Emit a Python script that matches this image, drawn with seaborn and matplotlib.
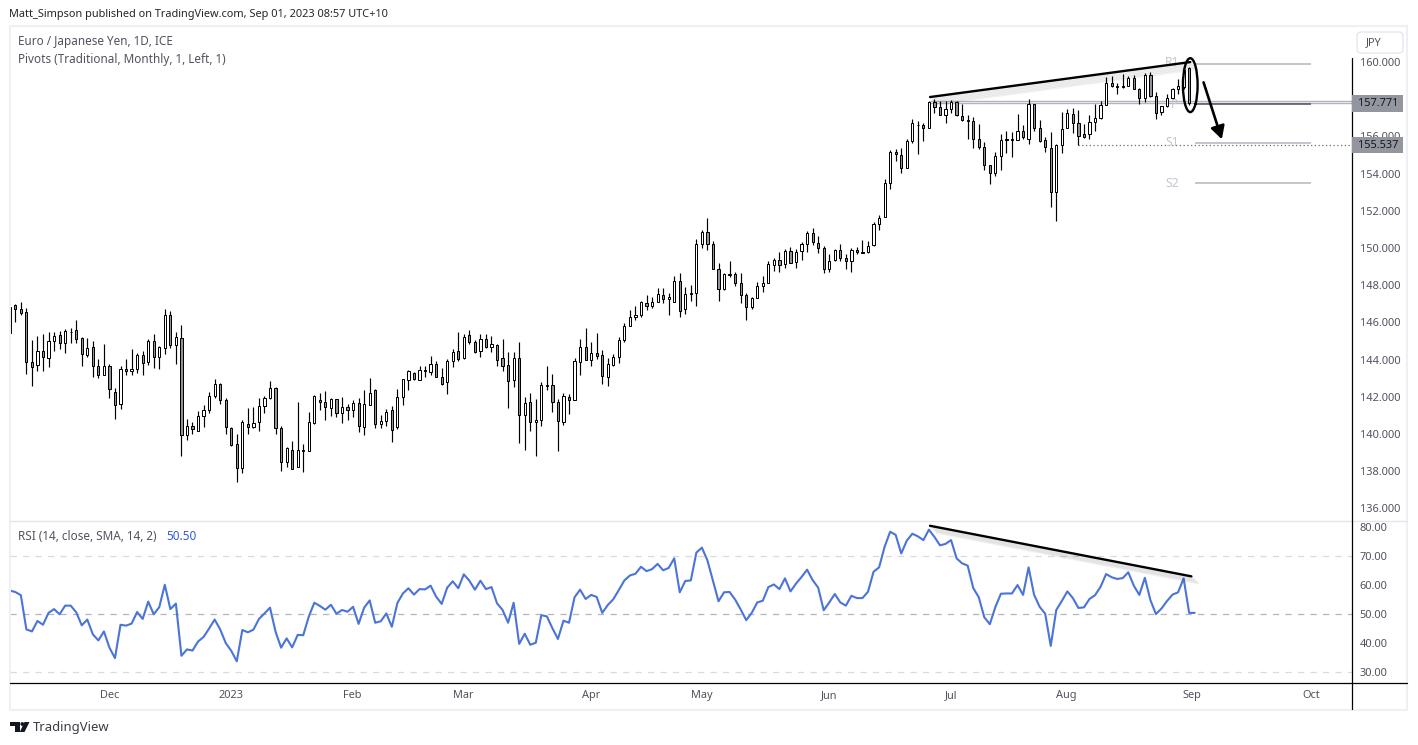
import numpy as np
import pandas as pd
import matplotlib
matplotlib.use('Agg')
import matplotlib.pyplot as plt
import matplotlib.patheffects as pe
from matplotlib.patches import Ellipse, Polygon, Rectangle, FancyBboxPatch
import seaborn as sns

# daily candles, first one sits half outside the left edge of the chart
opens = [146.85,
    146.92, 146.70, 146.54, 143.85, 143.69, 144.45, 144.07, 144.98, 145.31, 144.88,
    145.47, 145.57, 145.14, 144.23, 144.66, 143.64, 143.15, 143.64, 142.24, 141.60,
    143.48, 143.37, 143.48, 144.23, 143.85, 144.98, 144.12, 144.61, 146.38, 144.77,
    145.14, 139.93, 140.41, 140.18, 140.95, 141.27, 142.03, 142.67, 141.81, 140.31,
    139.45, 138.16, 140.52, 140.36, 140.63, 141.49, 141.92, 142.46, 140.31, 138.48,
    139.12, 138.21, 139.12, 139.07, 140.57, 141.81, 141.70, 141.38, 141.87, 141.11,
    141.43, 141.27, 141.65, 140.36, 141.54, 142.35, 140.52, 140.68, 141.27, 140.36,
    141.97, 142.89, 143.26, 142.89, 143.42, 143.32, 143.75, 143.05, 142.78, 143.91,
    144.45, 144.07, 145.31, 144.93, 144.45, 145.09, 144.66, 144.77, 144.07, 143.69,
    142.89, 144.07, 141.00, 141.70, 140.63, 140.74, 142.58, 142.62, 141.70, 140.63,
    141.97, 141.81, 143.85, 144.66, 143.96, 144.34, 144.23, 143.05, 143.73, 144.12,
    145.04, 145.79, 146.27, 146.38, 147.03, 146.86, 147.08, 147.46, 147.24, 147.12,
    148.21, 146.70, 147.56, 147.56, 150.20, 150.84, 150.20, 148.85, 147.78, 148.53,
    148.58, 148.10, 147.45, 146.81, 147.29, 147.94, 148.10, 149.07, 149.34, 149.12,
    149.82, 149.23, 149.82, 150.20, 150.79, 150.25, 149.98, 148.85, 149.34, 149.87,
    149.44, 149.28, 149.87, 149.77, 149.77, 150.14, 151.27, 151.65, 153.48, 155.14,
    154.98, 154.33, 155.78, 156.64, 156.59, 156.43, 157.83, 157.56, 157.18, 157.45,
    157.83, 157.08, 156.81, 156.81, 155.89, 155.41, 154.44, 154.01, 154.93, 155.79,
    155.84, 155.79, 156.32, 155.89, 157.77, 156.43, 155.79, 155.36, 152.99, 155.52,
    156.43, 157.19, 156.70, 156.11, 156.11, 156.76, 156.97, 157.67, 158.85, 158.69,
    158.64, 158.69, 159.12, 158.53, 158.05, 159.28, 158.15, 157.30, 157.62, 158.05,
    158.53, 158.64, 159.66, 157.78]
highs = [146.85,
    146.99, 147.08, 146.76, 145.05, 145.27, 145.38, 145.48, 145.48, 145.54, 145.63,
    145.70, 146.13, 145.20, 145.16, 145.00, 144.03, 144.84, 143.75, 142.46, 143.64,
    144.03, 144.55, 144.34, 144.46, 145.09, 145.38, 144.71, 146.72, 146.60, 145.48,
    145.84, 140.79, 140.65, 141.24, 141.54, 142.24, 142.96, 142.72, 141.92, 140.36,
    140.00, 140.74, 141.40, 141.45, 141.94, 142.03, 142.83, 142.51, 140.43, 139.28,
    139.61, 141.72, 139.46, 141.18, 142.08, 142.19, 142.29, 141.94, 141.87, 141.97,
    141.60, 141.81, 141.92, 142.35, 143.00, 142.40, 141.00, 141.33, 141.49, 142.40,
    142.94, 143.42, 143.32, 143.64, 143.64, 144.18, 143.91, 143.53, 144.02, 144.55,
    145.47, 145.36, 145.57, 145.04, 145.36, 145.36, 145.25, 144.82, 145.09, 144.39,
    144.39, 144.93, 141.97, 142.19, 141.87, 142.78, 143.64, 143.21, 141.87, 142.19,
    142.13, 144.07, 145.09, 145.70, 144.93, 145.41, 144.50, 144.07, 144.28, 145.20,
    145.95, 146.65, 146.86, 147.13, 147.47, 147.35, 147.83, 147.83, 147.56, 148.50,
    148.64, 147.88, 148.01, 150.46, 150.95, 151.59, 150.36, 149.17, 148.64, 149.30,
    148.69, 148.64, 147.56, 147.35, 148.15, 148.48, 149.28, 149.44, 149.77, 149.93,
    150.03, 149.93, 150.30, 150.89, 151.06, 150.63, 150.09, 149.66, 149.93, 150.20,
    149.66, 149.98, 150.03, 150.41, 150.36, 151.38, 151.75, 153.69, 155.25, 155.32,
    155.37, 155.89, 156.93, 156.81, 156.75, 157.93, 157.99, 157.88, 157.88, 157.94,
    157.88, 157.72, 157.13, 157.02, 156.65, 155.68, 154.49, 155.14, 156.11, 156.32,
    156.22, 157.20, 156.59, 158.04, 157.77, 156.86, 155.95, 156.22, 155.57, 157.29,
    157.45, 157.51, 157.40, 156.65, 157.13, 157.72, 157.88, 159.18, 159.23, 158.85,
    159.34, 159.23, 159.28, 158.58, 159.39, 159.44, 158.37, 157.62, 158.26, 158.58,
    159.07, 159.75, 159.71, 157.85]
lows = [145.45,
    146.04, 146.38, 143.23, 142.58, 143.41, 143.41, 143.62, 144.48, 144.59, 144.37,
    144.91, 144.91, 143.67, 144.16, 143.08, 143.03, 143.15, 141.95, 140.83, 141.36,
    143.15, 143.19, 143.30, 143.19, 143.73, 143.55, 143.51, 144.32, 144.64, 143.78,
    138.84, 139.68, 140.02, 140.14, 140.40, 141.15, 141.92, 141.61, 140.02, 139.34,
    137.44, 137.92, 140.02, 140.31, 140.18, 141.15, 141.87, 140.02, 138.03, 138.25,
    138.10, 138.21, 137.98, 139.07, 140.52, 141.31, 140.77, 140.95, 140.90, 140.61,
    140.77, 140.93, 140.13, 139.97, 141.54, 140.34, 140.34, 140.45, 139.59, 140.29,
    141.58, 142.38, 142.89, 142.89, 143.08, 143.19, 143.05, 142.62, 142.17, 143.62,
    143.91, 144.02, 144.82, 144.34, 144.16, 144.61, 144.39, 143.67, 143.41, 141.42,
    142.55, 139.53, 139.16, 140.18, 138.84, 140.45, 142.35, 141.20, 139.10, 140.50,
    141.09, 141.81, 143.19, 143.96, 143.67, 144.02, 142.71, 142.60, 143.64, 143.84,
    144.93, 145.79, 146.11, 146.27, 146.67, 146.76, 147.08, 147.03, 146.42, 147.12,
    146.31, 146.47, 147.17, 146.90, 150.02, 149.87, 148.85, 147.17, 147.72, 148.46,
    147.94, 147.06, 146.13, 146.70, 147.29, 147.65, 148.10, 148.78, 148.73, 148.91,
    149.17, 148.91, 149.34, 149.80, 150.14, 149.75, 148.64, 148.69, 149.28, 149.28,
    148.85, 148.69, 149.66, 149.71, 149.71, 150.09, 150.95, 151.65, 153.15, 154.67,
    154.03, 154.28, 155.66, 155.07, 155.77, 156.43, 157.25, 157.15, 156.73, 157.25,
    157.08, 156.81, 155.87, 155.39, 155.34, 154.21, 153.46, 153.89, 154.21, 155.10,
    154.91, 155.79, 155.89, 155.61, 156.27, 155.68, 155.18, 152.22, 151.47, 155.12,
    156.43, 156.16, 155.52, 155.90, 155.84, 156.27, 156.92, 157.67, 158.64, 158.26,
    158.59, 158.69, 158.53, 157.72, 157.83, 158.10, 156.92, 157.13, 157.57, 157.99,
    158.26, 158.53, 157.67, 157.72]
closes = [145.45,
    146.70, 146.49, 143.85, 143.62, 144.45, 144.12, 144.98, 145.25, 144.88, 145.52,
    145.49, 145.09, 144.28, 144.61, 143.64, 143.15, 143.64, 142.40, 141.54, 143.48,
    143.37, 143.48, 144.23, 143.80, 144.98, 144.12, 144.66, 146.38, 144.77, 145.20,
    139.93, 140.41, 140.25, 140.95, 141.27, 142.03, 142.67, 141.81, 140.36, 139.39,
    138.16, 140.63, 140.36, 140.57, 141.49, 141.92, 142.46, 140.31, 138.48, 139.23,
    138.10, 139.12, 139.07, 140.63, 142.03, 141.70, 141.43, 141.87, 141.11, 141.43,
    141.27, 141.65, 140.41, 141.60, 142.19, 140.52, 140.68, 141.17, 140.20, 141.97,
    142.94, 143.37, 142.94, 143.42, 143.37, 143.75, 143.05, 142.67, 143.91, 144.39,
    144.02, 145.20, 144.93, 144.39, 145.09, 144.66, 144.82, 143.96, 143.64, 142.83,
    144.07, 141.00, 141.65, 140.63, 140.74, 142.62, 142.62, 141.70, 140.68, 142.03,
    141.81, 143.91, 144.66, 143.96, 144.34, 144.18, 143.10, 143.75, 144.12, 145.04,
    145.79, 146.27, 146.38, 147.08, 146.86, 147.08, 147.51, 147.24, 147.35, 148.23,
    146.63, 147.51, 147.51, 150.20, 150.84, 150.20, 148.85, 147.78, 148.58, 148.58,
    148.10, 147.45, 146.81, 147.29, 147.94, 148.10, 149.12, 149.34, 149.07, 149.82,
    149.17, 149.77, 150.20, 150.79, 150.30, 149.98, 148.85, 149.28, 149.87, 149.44,
    149.28, 149.87, 149.77, 149.71, 150.09, 151.27, 151.59, 153.48, 155.14, 155.03,
    154.28, 155.78, 156.70, 156.59, 156.43, 157.83, 157.56, 157.18, 157.45, 157.83,
    157.13, 156.91, 156.91, 155.89, 155.41, 154.44, 154.06, 154.93, 155.79, 155.84,
    155.79, 156.32, 155.95, 157.77, 156.43, 155.73, 155.41, 152.99, 155.52, 156.38,
    157.24, 156.70, 156.00, 155.95, 156.76, 156.97, 157.67, 158.85, 158.69, 158.64,
    158.69, 159.12, 158.53, 158.05, 159.28, 158.15, 157.24, 157.62, 158.05, 158.53,
    158.69, 159.57, 157.78, 157.77]

rsi = [58.2,
    57.7, 56.6, 44.8, 44.1, 47.7, 46.4, 50.5, 51.8, 50.0, 53.0,
    53.0, 50.7, 46.2, 48.2, 43.1, 41.0, 44.1, 38.5, 34.9, 46.4,
    46.1, 46.8, 50.8, 48.4, 54.4, 50.0, 52.5, 60.2, 51.8, 53.7,
    35.7, 37.9, 37.5, 40.6, 42.2, 45.1, 48.2, 44.8, 40.1, 37.4,
    33.8, 44.6, 43.8, 44.7, 48.4, 50.3, 52.3, 44.0, 38.5, 41.7,
    38.6, 42.9, 42.8, 49.2, 54.0, 52.9, 51.6, 53.3, 50.2, 51.5,
    50.9, 52.6, 46.7, 52.3, 54.8, 47.1, 47.6, 50.3, 45.7, 53.9,
    57.2, 59.0, 56.8, 58.7, 58.6, 59.9, 56.1, 53.6, 59.2, 61.4,
    59.0, 63.8, 61.6, 58.5, 61.6, 58.7, 59.4, 53.8, 51.5, 47.1,
    54.0, 39.8, 43.3, 39.5, 40.2, 49.7, 49.3, 45.2, 41.5, 47.8,
    47.1, 55.9, 58.5, 55.3, 56.7, 56.0, 50.5, 53.2, 55.2, 58.4,
    61.7, 63.4, 64.0, 66.4, 64.9, 65.6, 67.4, 65.2, 66.0, 69.3,
    57.6, 61.5, 61.7, 71.3, 73.0, 68.6, 61.5, 54.5, 57.6, 57.7,
    55.1, 51.7, 48.0, 50.5, 54.1, 54.7, 59.4, 60.3, 58.7, 62.4,
    57.9, 60.6, 62.9, 65.4, 61.8, 59.2, 51.4, 54.1, 57.0, 54.1,
    53.0, 56.4, 55.6, 55.6, 57.8, 64.7, 66.2, 73.3, 78.5, 77.4,
    71.0, 75.4, 77.8, 76.9, 75.6, 79.2, 76.7, 73.8, 74.3, 75.6,
    69.3, 67.6, 66.8, 59.1, 55.9, 49.0, 46.6, 52.5, 57.1, 57.2,
    57.2, 60.1, 56.7, 66.2, 56.7, 52.6, 50.2, 39.1, 51.5, 54.6,
    57.9, 55.6, 52.2, 52.4, 55.3, 56.6, 59.5, 63.9, 62.8, 62.2,
    62.5, 64.5, 59.9, 56.7, 62.6, 54.9, 50.1, 52.0, 54.6, 56.8,
    57.6, 62.4, 50.5, 50.5]

month_labels = ['Dec', '2023', 'Feb', 'Mar', 'Apr', 'May', 'Jun', 'Jul', 'Aug', 'Sep', 'Oct']
month_bars = [17, 39, 60.8, 80.9, 104, 123.9, 147, 169, 189.8, 212.5, 234]
price_ticks = list(range(136, 162, 2))
rsi_ticks = [30, 40, 50, 60, 70, 80]
rsi_bands = [70, 50, 30]

# monthly pivots drawn right of the last bar
pivot_names = ['R1', 'P', 'S1', 'S2']
pivot_levels = [159.89, 157.73, 155.65, 153.48]
pivot_span = [213, 234]
hline_levels = [157.92, 157.78]
last_levels = [157.771, 155.537]

# hand drawn annotations on the chart
top_trend_bars = [165.2, 212.2]
top_trend_prices = [158.12, 160.0]
rsi_trend_bars = [165.2, 212.4]
rsi_trend_vals = [80.55, 63.1]

W, H = 1418, 745
AX_L, AX_R, AX_T, AX_MID, AX_B = 10, 1352, 26, 521, 682

sns.set_theme(style='white')
plt.rcParams['font.family'] = ['Noto Sans', 'DejaVu Sans']
TXT = '#50535e'

df = pd.DataFrame({'bar': np.arange(-1, len(opens) - 1), 'open': opens, 'high': highs,
                   'low': lows, 'close': closes, 'rsi': rsi})

fig = plt.figure(figsize=(W / 100, H / 100), dpi=100)
ax = fig.add_axes([AX_L / W, 1 - AX_MID / H, (AX_R - AX_L) / W, (AX_MID - AX_T) / H])
ax2 = fig.add_axes([AX_L / W, 1 - AX_B / H, (AX_R - AX_L) / W, (AX_B - AX_MID) / H], sharex=ax)

# price pane
left_bar = -0.96
right_bar = left_bar + (AX_R - AX_L) / 5.537
ax.set_xlim(left_bar, right_bar)
ax.set_ylim(135.32, 161.94)

up = df[df['close'] >= df['open']]
down = df[df['close'] < df['open']]
ax.vlines(df['bar'], df['low'], df['high'], color='black', lw=0.85, zorder=2)
ax.bar(up['bar'], up['close'] - up['open'], bottom=up['open'], width=0.4,
       color='white', edgecolor='black', lw=0.72, zorder=3)
ax.bar(down['bar'], down['open'] - down['close'], bottom=down['close'], width=0.4,
       color='#90929a', edgecolor='black', lw=0.72, zorder=3)

# pivot levels
ax.hlines(hline_levels, top_trend_bars[0], right_bar, color='#b2b5be', lw=1.0, zorder=1)
ax.hlines(last_levels[1], 192, right_bar, color='#6a6d78', lw=0.9, ls=(0, (1, 2)), zorder=1)
ax.hlines(pivot_levels, pivot_span[0], pivot_span[1], color=['#b2b5be', '#50535e', '#b2b5be', '#b2b5be'], lw=1.1, zorder=1)
for name, level in zip(pivot_names, pivot_levels):
    ax.text(209.4 if name == 'P' else 208.9, level + (0.1 if name == 'R1' else 0.0), name, color='#c3c6ce',
            fontsize=8.8, ha='center', va='center', zorder=4)

# trend lines with a soft shadow
shadow = [pe.SimpleLineShadow(offset=(k, -k), shadow_color='black', alpha=0.05) for k in (1, 2, 3, 4, 5)]
ax.plot(top_trend_bars, top_trend_prices, color='black', lw=1.7, zorder=5, solid_capstyle='round',
        path_effects=shadow + [pe.Normal()])
ax.add_patch(Ellipse((212.2, 158.76), 2.65, 2.9, fill=False, ec='black', lw=1.7, zorder=5))
ax.annotate('', xy=(217.9, 155.85), xytext=(214.6, 158.91), zorder=5,
            arrowprops=dict(arrowstyle='-|>,head_length=0.55,head_width=0.3', color='black', lw=1.9,
                            shrinkA=0, shrinkB=0, mutation_scale=14))

ax.set_yticks(price_ticks)
ax.set_yticklabels(['%.3f' % p for p in price_ticks])

# rsi pane
ax2.set_ylim(26.65, 82.2)
for level in rsi_bands:
    ax2.axhline(level, color='#b2b5be' if level == 50 else '#d8dae0', lw=0.9, ls=(0, (5, 5)), zorder=1)
sns.lineplot(data=df, x='bar', y='rsi', color='#4b74d8', lw=1.5, ax=ax2, zorder=3, errorbar=None)
ax2.plot(rsi_trend_bars, rsi_trend_vals, color='black', lw=1.7, zorder=5, solid_capstyle='round',
         path_effects=shadow + [pe.Normal()])
ax2.set_xlabel('')
ax2.set_ylabel('')
ax2.set_yticks(rsi_ticks)
ax2.set_yticklabels(['%.2f' % v for v in rsi_ticks])
ax2.set_xticks(month_bars)
ax2.set_xticklabels(month_labels)

for a in (ax, ax2):
    for s in a.spines.values():
        s.set_visible(False)
    a.patch.set_alpha(0)
    a.yaxis.tick_right()
    a.tick_params(axis='y', length=0, pad=5.5, labelsize=7.9, labelcolor=TXT)
ax.tick_params(axis='x', length=0, labelbottom=False)
ax2.tick_params(axis='x', length=0, pad=6, labelsize=7.9, labelcolor=TXT)
for lab in ax2.get_xticklabels():
    if lab.get_text() == '2023':
        lab.set_fontweight('bold')

# overlay in pixel coordinates for frame, header text and the price tags
ov = fig.add_axes([0, 0, 1, 1], zorder=10)
ov.set_xlim(0, W)
ov.set_ylim(H, 0)
ov.axis('off')
ov.patch.set_alpha(0)
FRAME = '#eff0f6'
ov.add_patch(Rectangle((9.5, 26), 1397.5, 683.5, fill=False, ec=FRAME, lw=1.5))
ov.plot([10, 1407], [521, 521], color='#e4e5ec', lw=1.0)
ov.plot([10, 1407], [682.5, 682.5], color='black', lw=0.9)
ov.plot([AX_R, AX_R], [58, 709], color='black', lw=0.9)

ov.text(9, 14, 'Matt_Simpson published on TradingView.com, Sep 01, 2023 08:57 UTC+10', color='#24262d',
        fontsize=7.9, va='center')
ov.text(18, 41.5, 'Euro / Japanese Yen, 1D, ICE', color=TXT, fontsize=8.45, va='center')
ov.text(18, 59, 'Pivots (Traditional, Monthly, 1, Left, 1)', color=TXT, fontsize=8.45, va='center')
ov.text(18, 537, 'RSI (14, close, SMA, 14, 2)', color=TXT, fontsize=8.45, va='center')
ov.text(166, 537, '%.2f' % rsi[-1], color='#2f5bd6', fontsize=8.45, va='center')

# currency button
ov.add_patch(FancyBboxPatch((1357, 32), 46, 21, boxstyle='round,pad=0,rounding_size=4',
                            fc='white', ec='#e6e7ee', lw=1.0))
ov.text(1374, 43, 'JPY', color=TXT, fontsize=7.9, ha='center', va='center')

# last value tags on the price scale
for level in last_levels:
    y = H - ax.transData.transform((0, level))[1]
    ov.add_patch(Rectangle((AX_R, y - 8.3), 51, 16.6, fc='#94969f', ec='none', zorder=4))
    ov.text(1378, y, '%.3f' % level, color='#15171e', fontsize=7.9, ha='center', va='center', zorder=5)

# TradingView logo
ov.add_patch(Polygon([(10, 722), (20, 722), (20, 732), (15, 732), (15, 726), (10, 726)], fc='#131722', ec='none'))
ov.add_patch(plt.Circle((22.3, 724), 1.9, fc='#131722', ec='none'))
ov.add_patch(Polygon([(24.5, 722), (29.5, 722), (24.5, 732), (19.8, 732)], fc='#131722', ec='none'))
ov.text(33, 727, 'TradingView', color='#3a3d46', fontsize=9.4, va='center')

fig.savefig('out.png', dpi=100)
